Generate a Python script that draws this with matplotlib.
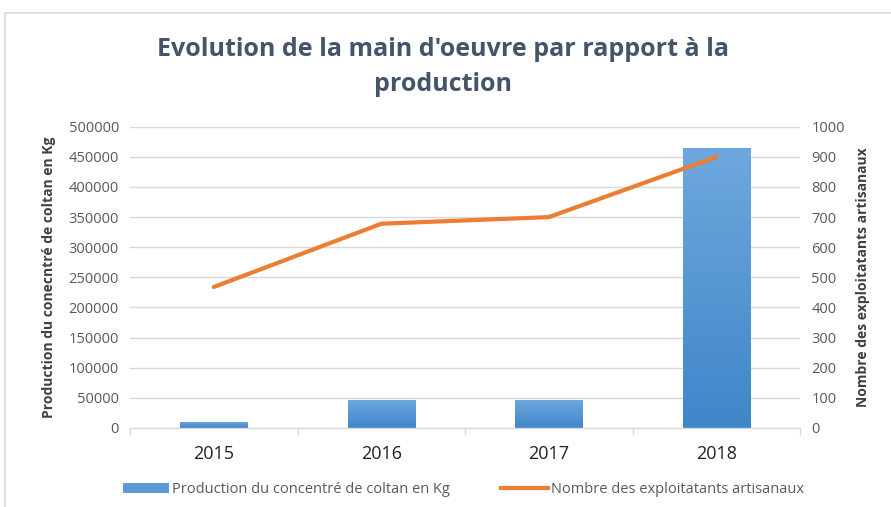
#! /usr/bin/env python
"""Evolution de la main d'oeuvre par rapport a la production (bar + line, twin axes)"""

import numpy as np
import matplotlib
matplotlib.use("Agg")
from matplotlib import pyplot as plt
from matplotlib.patches import Rectangle
from matplotlib.lines import Line2D

# Data
years = ["2015", "2016", "2017", "2018"]
production_kg = [10000, 47000, 46000, 465000]
exploitants = [468, 678, 700, 900]

prod_ticks = list(range(0, 500001, 50000))
expl_ticks = list(range(0, 1001, 100))

TITLE = "Evolution de la main d'oeuvre par rapport à la\nproduction"
LEFT_LABEL = "Production du conecntré de coltan en Kg"
RIGHT_LABEL = "Nombre des exploitatants artisanaux"
BAR_LEGEND = "Production du concentré de coltan en Kg"
LINE_LEGEND = "Nombre des exploitatants artisanaux"

BLUE = "#5B9BD5"
ORANGE = "#ED7D31"
GRID = "#D9D9D9"
TICK_GRAY = "#595959"
TITLE_COLOR = "#44546A"

plt.rcParams['font.family'] = ['Open Sans', 'DejaVu Sans']

fig = plt.figure(figsize=(8.91, 5.07), dpi=100)

# light border round the chart area
fig.patches.append(Rectangle((0.006, -0.05), 1.1, 1.025, transform=fig.transFigure,
                             fill=False, edgecolor="#D9D9D9", linewidth=1.2))

ax = fig.add_axes([0.146, 0.156, 0.752, 0.594])
x = np.arange(len(years))

bars = ax.bar(x, production_kg, width=0.4, color=BLUE, edgecolor="#8DB8E2",
              linewidth=0.6, zorder=2)

# vertical gradient in each bar (lighter at top, darker at bottom)
grad = np.linspace(0, 1, 256).reshape(-1, 1)
cmap = matplotlib.colors.LinearSegmentedColormap.from_list("bar", ["#3F86C8", "#6EA8DE"])
for bar in bars:
    bx, by = bar.get_x(), bar.get_y()
    bw, bh = bar.get_width(), bar.get_height()
    im = ax.imshow(grad, extent=(bx, bx + bw, by, by + bh), origin="lower",
                   aspect="auto", cmap=cmap, zorder=2.1)
    im.set_clip_path(bar)

ax.set_xlim(-0.5, len(years) - 0.5)
ax.set_ylim(0, 500000)
ax.set_yticks(prod_ticks)
ax.set_yticklabels([str(v) for v in prod_ticks])
ax.yaxis.grid(True, color=GRID, linewidth=1.0, zorder=0)
ax.set_axisbelow(True)

ax.set_xticks(x)
ax.set_xticklabels(years, fontsize=13, color="#222222")
ax.set_xticks(np.arange(-0.5, len(years), 1.0), minor=True)
ax.tick_params(axis="x", which="major", length=0, pad=12)
ax.tick_params(axis="x", which="minor", length=5, color=GRID, width=1)
ax.tick_params(axis="y", length=0, labelsize=10.5, labelcolor=TICK_GRAY, pad=8)
for side in ["top", "left", "right"]:
    ax.spines[side].set_visible(False)
ax.spines["bottom"].set_color(GRID)
ax.spines["bottom"].set_linewidth(1.0)
ax.set_ylabel(LEFT_LABEL, fontsize=10, fontweight="bold", color="#404040", labelpad=9)

ax2 = ax.twinx()
ax2.plot(x, exploitants, color=ORANGE, linewidth=3, solid_capstyle="round", zorder=3)
ax2.set_ylim(0, 1000)
ax2.set_yticks(expl_ticks)
ax2.set_yticklabels([str(v) for v in expl_ticks])
ax2.tick_params(axis="y", length=0, labelsize=10.5, labelcolor=TICK_GRAY, pad=8)
for side in ["top", "left", "right", "bottom"]:
    ax2.spines[side].set_visible(False)
ax2.set_ylabel(RIGHT_LABEL, fontsize=10, fontweight="bold", color="#404040",
               labelpad=8)

fig.text(0.497, 0.868, TITLE, ha="center", va="center", fontsize=18, fontweight="bold",
         color=TITLE_COLOR, linespacing=1.55)

handles = [Rectangle((0, 0), 1, 1, facecolor=BLUE, edgecolor="none"),
           Line2D([0], [0], color=ORANGE, linewidth=3)]
fig.legend(handles, [BAR_LEGEND, LINE_LEGEND], loc="center", ncol=2,
           bbox_to_anchor=(0.52, 0.035), frameon=False, fontsize=10.5,
           labelcolor=TICK_GRAY, handlelength=3.2, handletextpad=0.2,
           columnspacing=3.5)

fig.savefig("out.png", dpi=100)
